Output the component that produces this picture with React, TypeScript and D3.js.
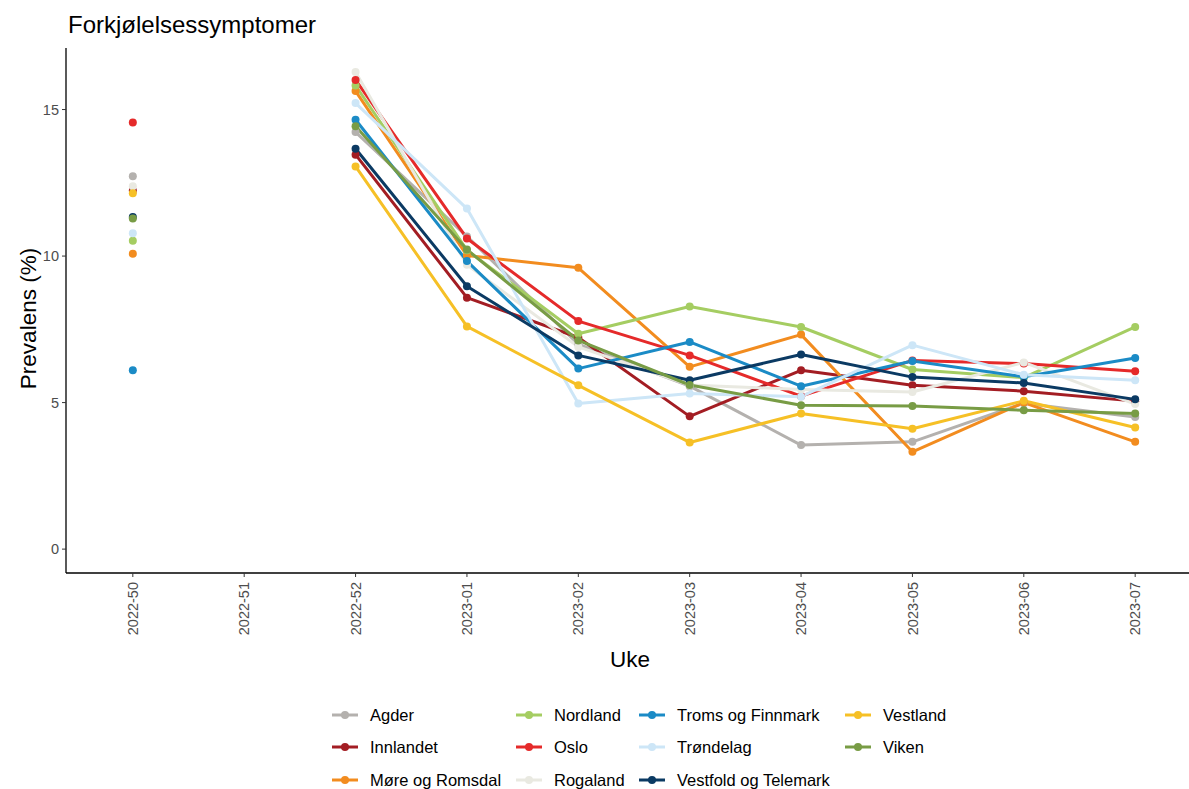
import React from "react";
import * as d3 from "d3";

const weeks = ["2022-50", "2022-51", "2022-52", "2023-01", "2023-02", "2023-03", "2023-04", "2023-05", "2023-06", "2023-07"];

const regions = ["Agder", "Innlandet", "Møre og Romsdal", "Nordland", "Oslo", "Rogaland", "Troms og Finnmark", "Trøndelag", "Vestfold og Telemark", "Vestland", "Viken"];

const colors = ["#b4b1ae", "#a31d23", "#f28c1f", "#a5cd62", "#e52a2a", "#e9e9e1", "#1b8bc6", "#cde6f7", "#0b3a63", "#f6c026", "#789c45"];

const agder = [12.72, null, 14.23, 10.67, 6.99, 5.56, 3.55, 3.66, 4.98, 4.51];
const innlandet = [12.24, null, 13.46, 8.58, 7.22, 4.53, 6.1, 5.59, 5.39, 5.05];
const more = [10.08, null, 15.63, 10.02, 9.6, 6.22, 7.32, 3.32, 5.0, 3.66];
const nordland = [10.52, null, 15.82, 10.2, 7.35, 8.28, 7.58, 6.13, 5.85, 7.58];
const oslo = [14.56, null, 16.01, 10.6, 7.78, 6.61, 5.22, 6.44, 6.33, 6.07];
const rogaland = [12.38, null, 16.28, 9.7, 6.9, 5.6, 5.45, 5.36, 6.37, 4.95];
const troms = [6.1, null, 14.65, 9.83, 6.16, 7.07, 5.56, 6.42, 5.88, 6.52];
const trondelag = [10.78, null, 15.22, 11.62, 4.97, 5.31, 5.2, 6.96, 5.95, 5.76];
const vestfold = [11.33, null, 13.66, 8.97, 6.61, 5.76, 6.64, 5.87, 5.67, 5.11];
const vestland = [12.14, null, 13.06, 7.6, 5.59, 3.64, 4.63, 4.11, 5.06, 4.15];
const viken = [11.28, null, 14.43, 10.22, 7.12, 5.6, 4.91, 4.88, 4.74, 4.63];

const series = [agder, innlandet, more, nordland, oslo, rogaland, troms, trondelag, vestfold, vestland, viken];

const yTicks = [0, 5, 10, 15];

const W = 1189;
const H = 789;
const left = 66;
const top = 48;
const bottom = 573;
const right = 1202;
const FONT = "Liberation Sans, Arial, sans-serif";

export default function App() {
  const x = d3.scalePoint<string>().domain(weeks).range([left, right]).padding(0.6);
  const y = d3.scaleLinear().domain([-0.815, 17.1]).range([bottom, top]);

  const line = d3
    .line<number | null>()
    .defined((d) => d !== null)
    .x((_, i) => x(weeks[i]) as number)
    .y((d) => y(d as number));

  const legendCols = [
    { keyX: 332, textX: 370 },
    { keyX: 516, textX: 554 },
    { keyX: 639, textX: 677 },
    { keyX: 845, textX: 883 },
  ];
  const legendRows = [715, 747, 780];

  return (
    <svg width={W} height={H} style={{ position: "absolute", left: 0, top: 0, background: "#fff" }} fontFamily={FONT}>
      <rect x={0} y={0} width={W} height={H} fill="#fff" />
      <text x={68} y={33} fontSize={24} fill="#000">Forkjølelsessymptomer</text>

      {series.map((vals, si) => (
        <path key={"l" + si} d={line(vals) || ""} fill="none" stroke={colors[si]} strokeWidth={3} strokeLinejoin="round" />
      ))}
      {series.map((vals, si) =>
        vals.map((v, i) =>
          v === null ? null : (
            <circle key={"p" + si + "-" + i} cx={x(weeks[i]) as number} cy={y(v)} r={4} fill={colors[si]} />
          )
        )
      )}

      <line x1={left} x2={left} y1={top} y2={bottom} stroke="#000" strokeWidth={1.3} />
      <line x1={left} x2={W} y1={bottom} y2={bottom} stroke="#000" strokeWidth={1.3} />
      {yTicks.map((t) => (
        <g key={"yt" + t}>
          <line x1={left - 4} x2={left} y1={y(t)} y2={y(t)} stroke="#333" strokeWidth={1} />
          <text x={left - 7} y={y(t)} dy="0.35em" textAnchor="end" fontSize={14.5} fill="#4d4d4d">{t}</text>
        </g>
      ))}
      {weeks.map((w) => {
        const px = x(w) as number;
        return (
          <g key={"xt" + w}>
            <line x1={px} x2={px} y1={bottom} y2={bottom + 4} stroke="#333" strokeWidth={1} />
            <text transform={`translate(${px},${bottom + 9}) rotate(-90)`} textAnchor="end" dy="0.35em" fontSize={14.5} fill="#4d4d4d">{w}</text>
          </g>
        );
      })}
      <text x={630} y={667} textAnchor="middle" fontSize={22.5} fill="#000">Uke</text>
      <text transform={`translate(36,${(top + bottom) / 2 + 8}) rotate(-90)`} textAnchor="middle" fontSize={22.5} fill="#000">Prevalens (%)</text>

      {regions.map((r, i) => {
        const col = Math.floor(i / 3);
        const row = i % 3;
        const c = legendCols[col];
        const ly = legendRows[row];
        return (
          <g key={"lg" + r}>
            <line x1={c.keyX} x2={c.keyX + 26} y1={ly} y2={ly} stroke={colors[i]} strokeWidth={3} />
            <circle cx={c.keyX + 13} cy={ly} r={4} fill={colors[i]} />
            <text x={c.textX} y={ly} dy="0.35em" fontSize={16.5} fill="#000">{r}</text>
          </g>
        );
      })}
    </svg>
  );
}
